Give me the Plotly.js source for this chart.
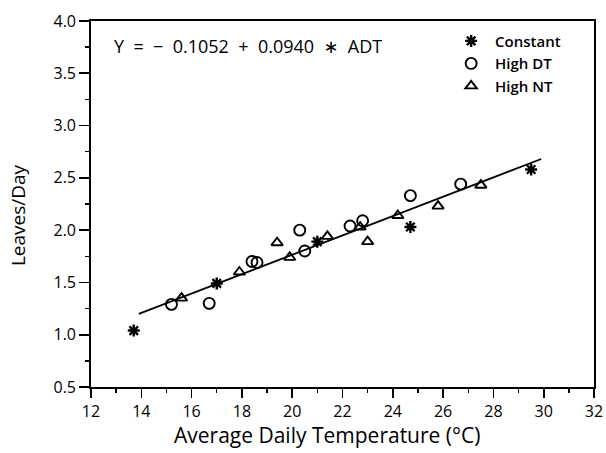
<!DOCTYPE html>
<html>
<head>
<meta charset="utf-8">
<script src="https://cdn.plot.ly/plotly-3.0.1.min.js"></script>
<style>html,body{margin:0;padding:0;background:#fff;}</style>
</head>
<body>
<div id="chart" style="width:606px;height:453px;"></div>
<script>
// Constant
const constX = [13.7, 17.0, 21.0, 24.7, 29.5];
const constY = [1.04, 1.49, 1.89, 2.03, 2.58];
// High DT
const dtX = [15.2, 16.7, 18.4, 18.6, 20.3, 20.5, 22.3, 22.8, 24.7, 26.7];
const dtY = [1.29, 1.30, 1.70, 1.69, 2.00, 1.80, 2.04, 2.09, 2.33, 2.44];
// High NT
const ntX = [15.6, 17.9, 19.4, 19.9, 21.4, 22.7, 23.0, 24.2, 25.8, 27.5];
const ntY = [1.35, 1.60, 1.88, 1.74, 1.94, 2.03, 1.89, 2.14, 2.23, 2.43];
// Regression line endpoints
const lineX = [13.9, 29.9];
const lineY = [1.20, 2.68];

const xTicks = [12, 14, 16, 18, 20, 22, 24, 26, 28, 30, 32];
const yTicks = [0.5, 1.0, 1.5, 2.0, 2.5, 3.0, 3.5, 4.0];

const FONT = "'Open Sans', 'DejaVu Sans', sans-serif";
const NB = '\u00a0';

const traces = [
  {x: lineX, y: lineY, mode: 'lines', line: {color: '#000', width: 1.8}, showlegend: false, hoverinfo: 'skip'},
  {x: constX, y: constY, mode: 'markers', name: NB + 'Constant',
   marker: {symbol: 'asterisk-open', size: 10, color: '#000', line: {color: '#000', width: 2.4}}},
  {x: dtX, y: dtY, mode: 'markers', name: NB + 'High DT',
   marker: {symbol: 'circle-open', size: 11, color: '#000', line: {color: '#000', width: 1.9}}},
  {x: ntX, y: ntY, mode: 'markers', name: NB + 'High NT',
   marker: {symbol: 'triangle-up-open', size: 10, color: '#000', line: {color: '#000', width: 1.9}}}
];

const layout = {
  width: 606, height: 453,
  margin: {l: 91, r: 12, t: 21, b: 66},
  paper_bgcolor: '#fff', plot_bgcolor: '#fff',
  font: {family: FONT, color: '#000', size: 15},
  showlegend: true,
  legend: {x: 0.716, xanchor: 'left', y: 0.99, yanchor: 'top',
           font: {family: FONT, size: 15, weight: 600, color: '#000'},
           bgcolor: 'rgba(0,0,0,0)', tracegroupgap: 0},
  xaxis: {
    range: [12, 32], tickvals: xTicks, ticktext: xTicks.map(String),
    ticks: 'outside', ticklen: 9, tickwidth: 1.6, tickcolor: '#000',
    minor: {dtick: 1, ticks: 'outside', ticklen: 4, tickwidth: 1.4, tickcolor: '#000', showgrid: false},
    showline: true, linecolor: '#000', linewidth: 1.8, mirror: true,
    showgrid: false, zeroline: false,
    tickfont: {family: FONT, size: 16, color: '#000'}
  },
  yaxis: {
    range: [0.5, 4.0], tickvals: yTicks, ticktext: yTicks.map(v => v.toFixed(1)),
    ticks: 'outside', ticklen: 10, tickwidth: 1.6, tickcolor: '#000',
    minor: {dtick: 0.25, ticks: 'outside', ticklen: 4, tickwidth: 1.4, tickcolor: '#000', showgrid: false},
    showline: true, linecolor: '#000', linewidth: 1.8, mirror: true,
    showgrid: false, zeroline: false,
    tickfont: {family: FONT, size: 16, color: '#000'}
  },
  annotations: [
    {
      xref: 'paper', yref: 'paper', x: 0.313, y: 0.932, xanchor: 'center', yanchor: 'middle',
      text: 'Y' + NB + NB + '=' + NB + NB + '\u2212' + NB + NB + '0.1052' + NB + NB + '+' + NB + NB + '0.0940' + NB + NB + '\u2217' + NB + NB + 'ADT',
      showarrow: false, font: {family: FONT, size: 18, color: '#000'}
    },
    {
      xref: 'paper', yref: 'paper', x: 0.470, y: -0.132, xanchor: 'center', yanchor: 'middle',
      text: 'Average Daily Temperature (°C)', showarrow: false,
      font: {family: FONT, size: 21, color: '#000'}
    },
    {
      xref: 'paper', yref: 'paper', x: -0.145, y: 0.470, xanchor: 'center', yanchor: 'middle',
      text: 'Leaves/Day', textangle: -90, showarrow: false,
      font: {family: FONT, size: 19, color: '#000'}
    }
  ]
};

Plotly.newPlot('chart', traces, layout, {displayModeBar: false, staticPlot: true});
</script>
</body>
</html>
